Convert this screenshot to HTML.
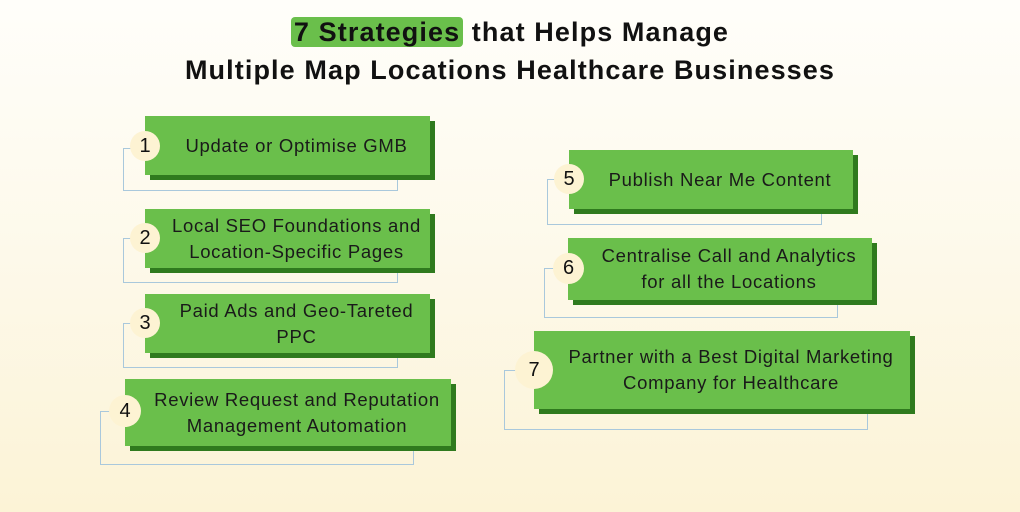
<!DOCTYPE html>
<html><head><meta charset="utf-8"><style>
*{margin:0;padding:0;box-sizing:border-box}
body{width:1020px;height:512px;overflow:hidden;position:relative;background:linear-gradient(#fffefa 0%,#fdf9ea 50%,#fcf3d6 100%);font-family:"Liberation Sans",sans-serif}
.t{position:absolute;left:0;width:1020px;text-align:center;font-weight:bold;font-size:27px;color:#111;letter-spacing:1.1px}
.hl{background:#6abf4b;border-radius:4px;padding:0 3px}
.o{position:absolute;border:1.5px solid #a9c8dc}
.g{position:absolute;background:#6abf4b;box-shadow:5px 5px 0 #2f7a1e;display:flex;align-items:center;justify-content:center;text-align:center;font-size:18.5px;line-height:26px;color:#1a1a1a;padding-left:18px;letter-spacing:0.7px;white-space:nowrap}
.c{position:absolute;border-radius:50%;background:#fdf3d3;display:flex;align-items:center;justify-content:center;font-size:20px;color:#111}
</style></head><body>
<div class="t" style="top:14px;height:36px;line-height:36px"><span class="hl">7 Strategies</span> that Helps Manage</div>
<div class="t" style="top:52px;height:36px;line-height:36px">Multiple Map Locations Healthcare Businesses</div>

<div class="o" style="left:123px;top:148px;width:275px;height:43px"></div>
<div class="g" style="left:145px;top:116px;width:285px;height:59px">Update or Optimise GMB</div>
<div class="c" style="left:130px;top:131px;width:30px;height:30px">1</div>

<div class="o" style="left:123px;top:238px;width:275px;height:45px"></div>
<div class="g" style="left:145px;top:209px;width:285px;height:59px">Local SEO Foundations and<br>Location-Specific Pages</div>
<div class="c" style="left:130px;top:223px;width:30px;height:30px">2</div>

<div class="o" style="left:123px;top:323px;width:275px;height:45px"></div>
<div class="g" style="left:145px;top:294px;width:285px;height:59px">Paid Ads and Geo-Tareted<br>PPC</div>
<div class="c" style="left:130px;top:308px;width:30px;height:30px">3</div>

<div class="o" style="left:100px;top:411px;width:314px;height:54px"></div>
<div class="g" style="left:125px;top:379px;width:326px;height:67px">Review Request and Reputation<br>Management Automation</div>
<div class="c" style="left:109px;top:395px;width:32px;height:32px">4</div>

<div class="o" style="left:547px;top:179px;width:275px;height:46px"></div>
<div class="g" style="left:569px;top:150px;width:284px;height:59px">Publish Near Me Content</div>
<div class="c" style="left:554px;top:164px;width:30px;height:30px">5</div>

<div class="o" style="left:544px;top:268px;width:294px;height:50px"></div>
<div class="g" style="left:568px;top:238px;width:304px;height:62px">Centralise Call and Analytics<br>for all the Locations</div>
<div class="c" style="left:553px;top:253px;width:31px;height:31px">6</div>

<div class="o" style="left:504px;top:370px;width:364px;height:60px"></div>
<div class="g" style="left:534px;top:331px;width:376px;height:78px">Partner with a Best Digital Marketing<br>Company for Healthcare</div>
<div class="c" style="left:515px;top:351px;width:38px;height:38px">7</div>
</body></html>
